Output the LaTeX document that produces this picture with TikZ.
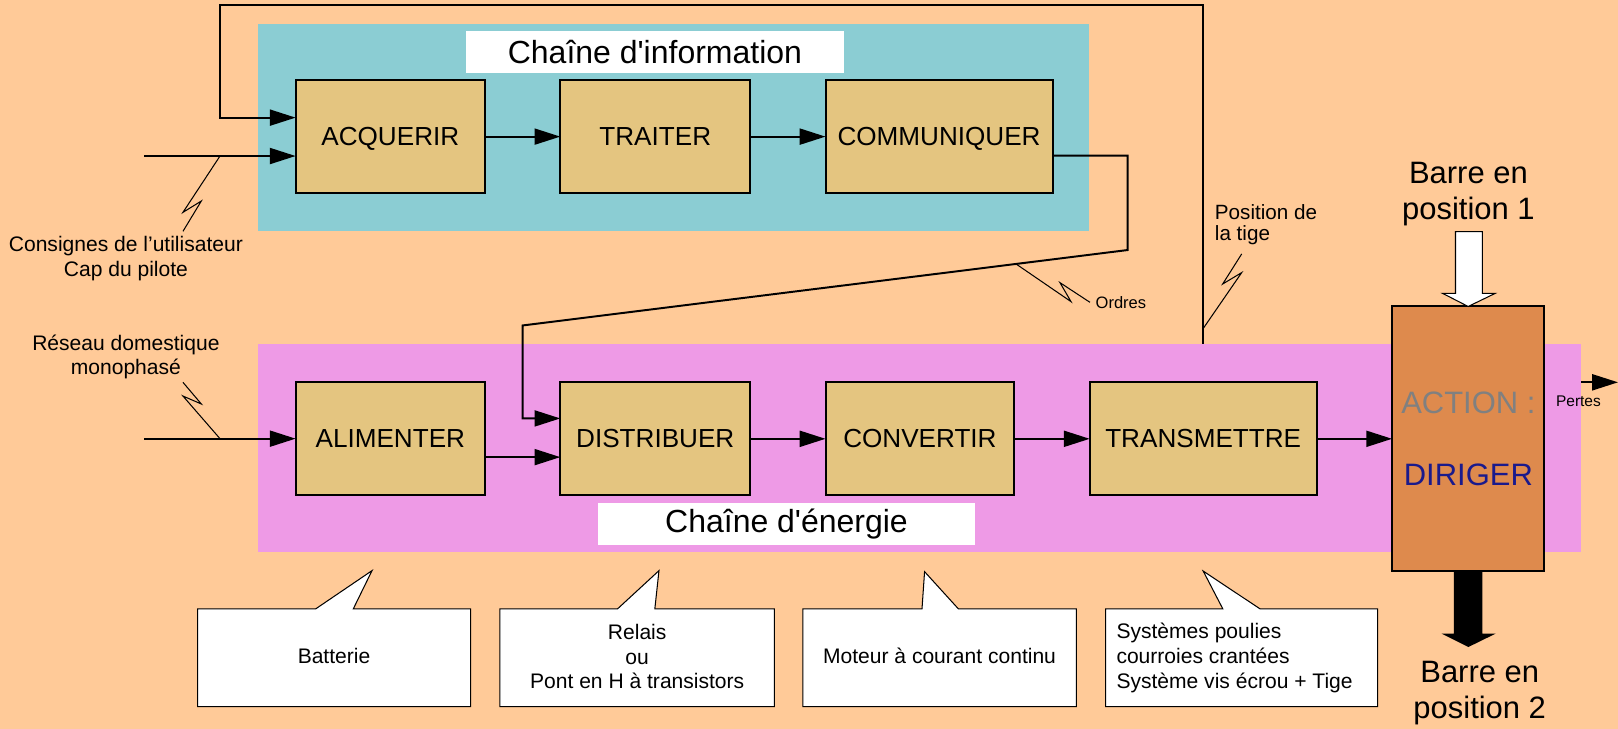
\documentclass[tikz,border=0pt]{standalone}
\usepackage{fontspec}
\setmainfont{Liberation Sans}
\usetikzlibrary{arrows.meta}
\definecolor{peach}{RGB}{255,202,152}
\definecolor{infobg}{RGB}{139,205,211}
\definecolor{enbg}{RGB}{238,154,230}
\definecolor{blkfill}{RGB}{228,197,128}
\definecolor{actfill}{RGB}{222,138,77}
\definecolor{dirblue}{RGB}{26,26,140}
\definecolor{actgray}{RGB}{128,128,128}
\newcommand\mlines[2]{\begin{tabular}[t]{@{}#1@{}}#2\end{tabular}}
\begin{document}
\begin{tikzpicture}[x=1pt,y=-1pt,
  blk/.style={draw=black, fill=blkfill, line width=1.9pt, inner sep=0pt, outer sep=0pt,
    text depth=0pt, font=\fontsize{25.3}{30}\selectfont},
  ttl/.style={fill=white, inner sep=0pt, outer sep=0pt, font=\fontsize{31}{36}\selectfont},
  conn/.style={line width=1.9pt, -{Triangle[length=25pt,width=15.5pt]}},
  bolt/.style={line width=1pt, line join=miter},
  lbl/.style={inner sep=0pt, outer sep=0pt, font=\fontsize{20.4}{24.2}\selectfont},
  big/.style={inner sep=0pt, outer sep=0pt, font=\fontsize{30}{35}\selectfont},
  callout/.style={draw=black, fill=white, line width=1pt, line join=miter},
]
\useasboundingbox (0,0) rectangle (1568,706);
\fill[peach] (0,0) rectangle (1568,706);
\fill[infobg] (250,23.3) rectangle (1055.6,224.3);
\fill[enbg] (250,333.3) rectangle (1532.6,534.6);

% titles
\node[ttl, minimum width=366.7pt, minimum height=40pt] (infotitle) at (634.7,50.4) {Chaîne d\textquotesingle information};
\node[ttl, minimum width=365.8pt, minimum height=41pt] (entitle) at (762.2,507.6) {Chaîne d\textquotesingle énergie};

% chain of information
\node[blk, minimum width=183.5pt, minimum height=110pt] (acq) at (378.25,132.4) {ACQUERIR};
\node[blk, minimum width=184pt, minimum height=110pt] (tra) at (635,132.4) {TRAITER};
\node[blk, minimum width=220pt, minimum height=110pt] (com) at (910,132.4) {COMMUNIQUER};

% chain of energy
\node[blk, minimum width=183.5pt, minimum height=109.5pt] (ali) at (378.25,425.25) {ALIMENTER};
\node[blk, minimum width=184pt, minimum height=109.5pt] (dis) at (635,425.25) {DISTRIBUER};
\node[blk, minimum width=183pt, minimum height=109.5pt] (conv) at (891.5,425.25) {CONVERTIR};
\node[blk, minimum width=220pt, minimum height=109.5pt] (trans) at (1166,425.25) {TRANSMETTRE};

% action
\node[draw=black, fill=actfill, line width=1.9pt, inner sep=0pt, outer sep=0pt,
  minimum width=147.5pt, minimum height=256.5pt] (act) at (1422.8,425.25) {};
\node[big, text=actgray, anchor=base] (acttxt) at (1423,400.5) {ACTION :};
\node[big, text=dirblue, anchor=base] (dirtxt) at (1423,470.7) {DIRIGER};

% white and black arrows
\draw[line width=1pt, fill=white, line join=miter] (1410.5,224.5) -- (1436.5,224.5) -- (1436.5,284.3) -- (1449,284.3) -- (act.north) -- (1398,284.3) -- (1410.5,284.3) -- cycle;
\fill[black] (1409,553.5) -- (1436.5,553.5) -- (1436.5,614) -- (1449.5,614) -- (1423,627) -- (1397,614) -- (1409,614) -- cycle;
\node[big, anchor=base] (barre1) at (1423,177.6) {\mlines{c}{Barre en\\position 1}};
\node[big, anchor=base] (barre2) at (1434,661) {\mlines{c}{Barre en\\position 2}};

% connectors
\coordinate (cin) at (140,151.2);
\draw[conn] (cin) -- (cin -| acq.west);
\coordinate (lpbot) at (1166,333.3);
\coordinate (lptop) at (213.5,4.5);
\coordinate (lpin) at (213.5,114);
\draw[conn] (lpbot) |- (lptop) -- (lpin) -- (lpin -| acq.west);
\draw[conn] (acq.east) -- (tra.west);
\draw[conn] (tra.east) -- (com.west);
\coordinate (oA) at (1092.8,150.9);
\coordinate (oB) at (1092.8,242.3);
\coordinate (oC) at (506.5,315.4);
\coordinate (oD) at (506.5,405.5);
\draw[conn] (com.east |- oA) -- (oA) -- (oB) -- (oC) -- (oD) -- (oD -| dis.west);
\coordinate (rin) at (140,425.1);
\draw[conn] (rin) -- (rin -| ali.west);
\coordinate (ad) at (0,443);
\draw[conn] (ali.east |- ad) -- (dis.west |- ad);
\draw[conn] (dis.east) -- (conv.west);
\draw[conn] (conv.east) -- (trans.west);
\draw[conn] (trans.east) -- (act.west);
\coordinate (pA) at (1532.6,370.5);
\coordinate (pB) at (1568,370.5);
\draw[conn] (pA) -- (pB);

% lightning marks
\draw[bolt] (213.2,151.2) -- (177.3,205.8) -- (195.1,194.8) -- (177.3,224.2);
\draw[bolt] (177.3,370.5) -- (195.1,391.5) -- (177.3,383.8) -- (213.2,425.1);
\draw[bolt] (985.2,256.2) -- (1037.9,292.3) -- (1027.2,273.9) -- (1056.3,293);
\draw[bolt] (1166.1,318.2) -- (1203.3,264.2) -- (1184.9,275.2) -- (1203.3,246.1);

% labels
\node[lbl, anchor=base] (consignes) at (122,244) {\mlines{c}{Consignes de l’utilisateur\\Cap du pilote}};
\node[lbl, anchor=base] (reseau) at (122,339.2) {\mlines{c}{Réseau domestique\\monophasé}};
\node[lbl, anchor=base west, font=\fontsize{20}{19.4}\selectfont] (postige) at (1177.4,212.5) {\mlines{l}{Position de\\la tige}};
\node[lbl, anchor=base west, font=\fontsize{16}{19}\selectfont] (ordres) at (1061.8,298.8) {Ordres};
\node[lbl, anchor=base west, font=\fontsize{15}{18}\selectfont] (pertes) at (1508,394) {Pertes};

% callouts
\draw[callout] (191.5,590) -- (306,590) -- (360.5,553) -- (342.4,590) -- (456,590) -- (456,684.8) -- (191.5,684.8) -- cycle;
\draw[callout] (484.5,590) -- (598.5,590) -- (638.6,553) -- (634.6,590) -- (750.5,590) -- (750.5,684.8) -- (484.5,684.8) -- cycle;
\draw[callout] (778,590) -- (893.5,590) -- (896,554) -- (928.7,590) -- (1043,590) -- (1043,684.8) -- (778,684.8) -- cycle;
\draw[callout] (1071.5,590) -- (1185,590) -- (1166,553.4) -- (1221,590) -- (1335,590) -- (1335,684.8) -- (1071.5,684.8) -- cycle;
\node[lbl, anchor=base] (batt) at (323.7,642.9) {Batterie};
\node[lbl, anchor=base] (relais) at (617.5,619.3) {\mlines{c}{Relais\\ou\\Pont en H à transistors}};
\node[lbl, anchor=base] (moteur) at (910.5,643) {Moteur à courant continu};
\node[lbl, anchor=base west] (systemes) at (1082,619) {\mlines{l}{Systèmes poulies\\courroies crantées\\Système vis écrou + Tige}};
\end{tikzpicture}
\end{document}
